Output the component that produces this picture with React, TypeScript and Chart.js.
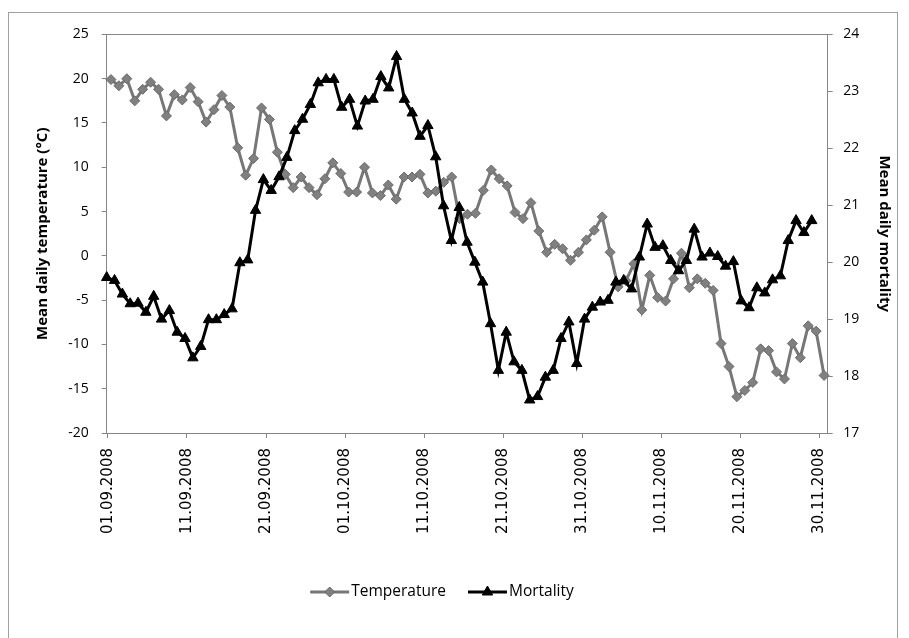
import { useEffect, useRef } from "react";
import { Chart, registerables, type ChartConfiguration, type Plugin } from "chart.js";
import { drawPoint } from "chart.js/helpers";

Chart.register(...registerables);

// one label every 10 days, 01.09.2008 .. 30.11.2008
const TICK_LABELS = [
  "01.09.2008", "11.09.2008", "21.09.2008", "01.10.2008", "11.10.2008",
  "21.10.2008", "31.10.2008", "10.11.2008", "20.11.2008", "30.11.2008",
];

// mean daily temperature (°C), 91 days
const TEMPERATURE = [
  19.9, 19.2, 20.0, 17.5, 18.8, 19.6, 18.8, 15.8, 18.2, 17.6,
  19.0, 17.4, 15.1, 16.5, 18.1, 16.8, 12.2, 9.1, 11.0, 16.7,
  15.4, 11.7, 9.2, 7.7, 8.9, 7.7, 6.9, 8.7, 10.5, 9.3,
  7.2, 7.2, 10.0, 7.1, 6.8, 8.0, 6.4, 8.9, 8.9, 9.2,
  7.1, 7.3, 8.3, 8.9, 4.2, 4.7, 4.8, 7.4, 9.7, 8.7,
  7.9, 4.9, 4.2, 6.0, 2.8, 0.4, 1.3, 0.8, -0.5, 0.4,
  1.8, 2.9, 4.4, 0.4, -3.5, -2.8, -0.9, -6.1, -2.2, -4.7,
  -5.1, -2.6, 0.3, -3.6, -2.6, -3.1, -3.9, -9.9, -12.5, -15.9,
  -15.2, -14.3, -10.5, -10.7, -13.1, -13.9, -9.9, -11.5, -7.9, -8.5,
  -13.5,
];

// mean daily mortality, 91 days
const MORTALITY = [
  19.73, 19.68, 19.44, 19.27, 19.28, 19.12, 19.4, 19.0, 19.15, 18.77,
  18.66, 18.32, 18.52, 18.99, 18.99, 19.08, 19.18, 19.99, 20.04, 20.91,
  21.45, 21.26, 21.5, 21.84, 22.31, 22.51, 22.77, 23.15, 23.21, 23.21,
  22.72, 22.86, 22.39, 22.83, 22.86, 23.26, 23.06, 23.61, 22.86, 22.62,
  22.21, 22.4, 21.85, 20.99, 20.38, 20.96, 20.35, 20.0, 19.65, 18.92,
  18.1, 18.77, 18.25, 18.1, 17.58, 17.64, 17.98, 18.1, 18.66, 18.95,
  18.22, 19.0, 19.21, 19.3, 19.33, 19.65, 19.68, 19.53, 20.09, 20.67,
  20.26, 20.29, 20.03, 19.85, 20.03, 20.58, 20.09, 20.16, 20.1, 19.93,
  20.01, 19.32, 19.2, 19.55, 19.46, 19.69, 19.76, 20.38, 20.73, 20.52,
  20.73,
];

const AXIS = "#868686";
const TEMP_LINE = "#777777";
const TEMP_FILL = "#808080";
const BASE_FONT = "'Open Sans', sans-serif";

const plotFrame: Plugin<"line"> = {
  id: "plotFrame",
  beforeDatasetsDraw(chart) {
    const { ctx, chartArea: a } = chart;
    ctx.save();
    ctx.strokeStyle = AXIS;
    ctx.lineWidth = 1;
    ctx.beginPath();
    ctx.moveTo(a.left, Math.round(a.top) + 0.5);
    ctx.lineTo(a.right, Math.round(a.top) + 0.5);
    ctx.stroke();
    ctx.restore();
  },
};

// Excel-style legend: a short line with the marker in its middle
const lineLegend: Plugin<"line"> = {
  id: "lineLegend",
  afterDraw(chart) {
    const { ctx } = chart;
    const y = 579;
    const centre = 433;
    const lineLen = 39;
    ctx.save();
    ctx.font = `15.5px ${BASE_FONT}`;
    const items = chart.data.datasets.map((ds: any) => ({
      ds,
      w: lineLen + 2 + ctx.measureText(ds.label).width,
    }));
    const gap = 22;
    const total = items.reduce((s, it) => s + it.w, 0) + gap * (items.length - 1);
    let x = centre - total / 2;
    for (const { ds, w } of items) {
      ctx.strokeStyle = ds.borderColor;
      ctx.lineWidth = 3;
      ctx.beginPath();
      ctx.moveTo(x, y);
      ctx.lineTo(x + lineLen, y);
      ctx.stroke();
      ctx.fillStyle = ds.pointBackgroundColor;
      ctx.strokeStyle = ds.pointBorderColor;
      ctx.lineWidth = ds.pointBorderWidth;
      drawPoint(ctx, { pointStyle: ds.pointStyle, radius: ds.pointRadius, borderWidth: ds.pointBorderWidth, rotation: 0 }, x + lineLen / 2, y);
      ctx.fillStyle = "#000";
      ctx.textBaseline = "middle";
      ctx.textAlign = "left";
      ctx.fillText(ds.label, x + lineLen + 2, y);
      x += w + gap;
    }
    ctx.restore();
  },
};

export default function App() {
  const canvasRef = useRef<HTMLCanvasElement>(null);

  useEffect(() => {
    if (!canvasRef.current) return;

    const config: ChartConfiguration<"line"> = {
      type: "line",
      data: {
        datasets: [
          {
            label: "Temperature",
            data: TEMPERATURE.map((v, i) => ({ x: i, y: v })),
            xAxisID: "xT",
            yAxisID: "y",
            borderColor: TEMP_LINE,
            borderWidth: 3,
            pointStyle: "rectRot",
            pointRadius: 5,
            pointBackgroundColor: TEMP_FILL,
            pointBorderColor: "#6a6a6a",
            pointBorderWidth: 1,
            tension: 0,
            clip: false,
            order: 2,
          },
          {
            label: "Mortality",
            data: MORTALITY.map((v, i) => ({ x: i, y: v })),
            xAxisID: "xM",
            yAxisID: "y2",
            borderColor: "#000000",
            borderWidth: 3,
            pointStyle: "triangle",
            pointRadius: 6,
            pointBackgroundColor: "#000000",
            pointBorderColor: "#000000",
            pointBorderWidth: 1,
            tension: 0,
            clip: false,
            order: 1,
          },
        ],
      },
      options: {
        responsive: true,
        maintainAspectRatio: false,
        animation: false,
        layout: { padding: { top: 20, left: 0, right: 0, bottom: 76 } },
        plugins: {
          legend: { display: false },
          tooltip: { enabled: false },
        },
        scales: {
          x: {
            type: "linear",
            position: "bottom",
            min: -0.16,
            max: 91.07,
            afterFit: (s) => {
              s.height = 130;
            },
            border: { color: AXIS, width: 1 },
            grid: { drawOnChartArea: false, drawTicks: true, tickLength: 5, color: AXIS },
            ticks: {
              stepSize: 10,
              includeBounds: false,
              autoSkip: false,
              minRotation: 90,
              maxRotation: 90,
              padding: 10,
              color: "#000",
              font: { family: "'DejaVu Sans', sans-serif", size: 15 },
              callback: (v) => TICK_LABELS[Math.round(Number(v) / 10)] ?? "",
            },
          },
          xT: { type: "linear", axis: "x", display: false, min: -0.54, max: 90.46 },
          xM: { type: "linear", axis: "x", display: false, min: 0, max: 92.04 },
          y: {
            type: "linear",
            position: "left",
            min: -20,
            max: 25,
            afterFit: (s) => {
              s.width = 97.7;
            },
            border: { color: AXIS, width: 1 },
            grid: { drawOnChartArea: false, drawTicks: true, tickLength: 5, color: AXIS },
            ticks: {
              stepSize: 5,
              padding: 13,
              color: "#000",
              font: { family: BASE_FONT, size: 14 },
            },
            title: {
              display: true,
              text: "Mean daily temperature (°C)",
              color: "#000",
              font: { family: BASE_FONT, size: 15, weight: "bold" },
              padding: { top: 25, bottom: 0 },
            },
          },
          y2: {
            type: "linear",
            position: "right",
            min: 17,
            max: 24,
            afterFit: (s) => {
              s.width = 69.3;
            },
            border: { color: AXIS, width: 1 },
            grid: { drawOnChartArea: false, drawTicks: true, tickLength: 5, color: AXIS },
            ticks: {
              stepSize: 1,
              padding: 10.5,
              color: "#000",
              font: { family: BASE_FONT, size: 14 },
            },
            title: {
              display: true,
              text: "Mean daily mortality",
              color: "#000",
              font: { family: BASE_FONT, size: 15, weight: "bold" },
              padding: { top: 4, bottom: 0 },
            },
          },
        },
      },
      plugins: [plotFrame, lineLegend],
    };

    const chart = new Chart(canvasRef.current, config);
    return () => chart.destroy();
  }, []);

  return (
    <div
      style={{
        position: "fixed",
        left: 8,
        top: 12,
        width: 888,
        height: 640,
        border: "1px solid #a0a0a0",
        background: "#fff",
      }}
    >
      <div style={{ position: "relative", width: 888, height: 626 }}>
        <canvas ref={canvasRef} />
      </div>
    </div>
  );
}
